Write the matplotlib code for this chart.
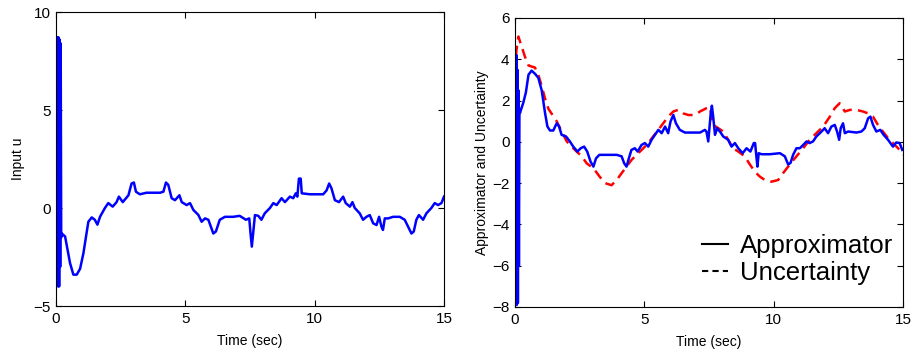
import matplotlib
matplotlib.use('Agg')
import matplotlib.pyplot as plt
from matplotlib.lines import Line2D

plt.rcParams['font.family'] = ['Liberation Sans', 'DejaVu Sans']

# Left panel: control input u(t)
t_u = [0.0, 0.02, 0.04, 0.06, 0.08, 0.10, 0.12, 0.14, 0.16, 0.18, 0.20,
       0.22, 0.35, 0.54, 0.67, 0.80, 0.93, 1.06, 1.16, 1.25, 1.38, 1.50, 1.60,
       1.70, 1.89, 2.02, 2.19, 2.34, 2.43, 2.58, 2.80, 2.92, 3.01, 3.09, 3.24,
       3.50, 4.02, 4.15, 4.25, 4.34, 4.47, 4.60, 4.77, 4.86, 5.05, 5.18, 5.31,
       5.50, 5.63, 5.76, 5.89, 6.08, 6.18, 6.33, 6.53, 6.85, 7.10, 7.34, 7.47,
       7.52, 7.57, 7.62, 7.69, 7.82, 7.94, 8.07, 8.27, 8.40, 8.53, 8.72, 8.85,
       9.04, 9.17, 9.27, 9.33, 9.39, 9.46, 9.50, 9.81, 10.33, 10.46, 10.56,
       10.65, 10.78, 10.94, 11.10, 11.20, 11.36, 11.46, 11.55, 11.74, 11.87,
       12.00, 12.13, 12.26, 12.39, 12.49, 12.58, 12.64, 12.71, 12.84, 13.03,
       13.29, 13.48, 13.61, 13.74, 13.83, 13.93, 14.03, 14.19, 14.32, 14.51,
       14.64, 14.77, 14.90, 15.0]
u = [3.7, 8.7, -2.0, 8.7, -4.0, 8.7, -4.0, 8.6, -3.0, 8.4, -1.5,
     -1.3, -1.45, -2.8, -3.4, -3.4, -3.1, -2.3, -1.45, -0.7, -0.48, -0.6, -0.85,
     -0.45, 0.0, 0.25, 0.07, 0.3, 0.58, 0.3, 0.65, 1.25, 1.3, 0.83, 0.7,
     0.78, 0.78, 0.83, 1.3, 1.18, 0.5, 0.4, 0.65, 0.3, 0.15, 0.25, -0.1,
     -0.35, -0.7, -0.53, -0.6, -1.3, -1.2, -0.6, -0.45, -0.45, -0.4, -0.6, -0.53,
     -1.3, -1.97, -1.3, -0.36, -0.4, -0.6, -0.27, 0.0, 0.25, 0.15, 0.5, 0.3,
     0.58, 0.5, 0.75, 0.58, 1.5, 1.5, 0.75, 0.7, 0.7, 0.9, 1.25,
     1.0, 0.4, 0.3, 0.58, 0.25, 0.07, 0.3, 0.0, -0.27, -0.6,
     -0.45, -0.36, -0.78, -0.87, -0.45, -0.95, -1.12, -0.53, -0.53, -0.45,
     -0.45, -0.6, -0.95, -1.3, -1.2, -0.6, -0.36, -0.6, -0.27, 0.0,
     0.25, 0.15, 0.25, 0.58]

# Right panel: approximator output
t_a = [0.0, 0.03, 0.05, 0.07, 0.09, 0.11, 0.13, 0.15, 0.17, 0.19,
       0.32, 0.42, 0.52, 0.64, 0.77, 0.90, 1.03, 1.16, 1.25, 1.35, 1.48, 1.61,
       1.70, 1.80, 1.97, 2.12, 2.25, 2.41, 2.54, 2.67, 2.79, 2.92, 3.03, 3.13,
       3.26, 3.54, 3.93, 4.12, 4.22, 4.31, 4.40, 4.50, 4.63, 4.74, 4.89, 5.02,
       5.15, 5.28, 5.41, 5.54, 5.67, 5.80, 5.92, 6.01, 6.12, 6.22, 6.37, 6.57,
       6.89, 7.15, 7.34, 7.40, 7.47, 7.56, 7.61, 7.66, 7.73, 7.82, 7.92, 8.05,
       8.24, 8.37, 8.50, 8.63, 8.80, 8.95, 9.10, 9.23, 9.28, 9.33, 9.37, 9.42,
       9.53, 9.85, 10.24, 10.43, 10.56, 10.65, 10.75, 10.88, 11.01, 11.14,
       11.27, 11.39, 11.52, 11.65, 11.85, 11.97, 12.10, 12.23, 12.36, 12.45,
       12.53, 12.59, 12.68, 12.75, 12.88, 13.20, 13.39, 13.52, 13.65, 13.74,
       13.84, 13.97, 14.12, 14.25, 14.42, 14.61, 14.74, 14.87, 14.97]
approx = [0.0, -1.9, 4.2, -7.9, 3.5, -7.8, 2.5, -6.0, 1.6, 1.4,
          1.9, 2.4, 3.25, 3.45, 3.3, 3.1, 2.5, 1.4, 0.75, 0.55, 0.55, 0.9,
          0.75, 0.34, 0.26, 0.02, -0.23, -0.47, -0.31, -0.23, -0.47, -0.96, -1.2, -0.8,
          -0.63, -0.63, -0.63, -0.7, -1.04, -1.2, -0.8, -0.39, -0.31, -0.47, -0.15, -0.06,
          -0.23, 0.1, 0.34, 0.58, 0.42, 0.74, 0.42, 0.98, 1.3, 0.9, 0.58, 0.45,
          0.45, 0.45, 0.58, 0.5, 0.02, 1.3, 1.75, 1.22, 0.34, 0.66, 0.5, 0.26,
          0.1, -0.23, -0.06, -0.31, -0.55, -0.31, -0.47, -0.06, -0.06, -0.7, -1.2, -0.55,
          -0.6, -0.6, -0.55, -0.7, -1.1, -1.02, -0.63, -0.31, -0.31, -0.15,
          0.02, -0.06, 0.02, 0.26, 0.5, 0.66, 0.42, 0.74, 0.82, 0.5,
          0.1, 0.66, 0.9, 0.42, 0.5, 0.45, 0.5, 0.66, 1.14, 1.22,
          0.82, 0.5, 0.58, 0.34, 0.1, -0.23, -0.03, -0.06, -0.39]

# Right panel: true uncertainty
t_d = [0.0, 0.05, 0.13, 0.26, 0.39, 0.52, 0.64, 0.77, 0.90, 1.03, 1.16, 1.29,
       1.45, 1.61, 1.74, 1.87, 2.00, 2.19, 2.38, 2.58, 2.77, 3.03, 3.28, 3.48,
       3.73, 3.93, 4.12, 4.31, 4.50, 4.70, 4.96, 5.15, 5.34, 5.54, 5.73, 5.92,
       6.12, 6.31, 6.50, 6.70, 6.95, 7.15, 7.40, 7.53, 7.66, 7.86, 8.05, 8.24,
       8.43, 8.63, 8.88, 9.08, 9.27, 9.46, 9.66, 9.91, 10.17, 10.36, 10.62,
       10.88, 11.14, 11.39, 11.65, 11.91, 12.17, 12.36, 12.55, 12.75, 12.95,
       13.20, 13.45, 13.65, 13.84, 14.03, 14.22, 14.42, 14.61, 14.81, 15.0]
uncert = [2.6, 4.4, 5.1, 4.6, 4.1, 3.7, 3.65, 3.6, 3.25, 2.7, 2.1, 1.6,
          1.3, 1.0, 0.66, 0.34, 0.02, -0.23, -0.47, -0.7, -1.04, -1.28, -1.7, -2.0,
          -2.1, -1.85, -1.52, -1.2, -0.88, -0.63, -0.31, -0.06, 0.26, 0.58, 0.9, 1.22,
          1.47, 1.55, 1.38, 1.3, 1.3, 1.47, 1.63, 1.68, 0.82, 0.66, 0.5, 0.1,
          -0.31, -0.47, -0.7, -1.1, -1.44, -1.68, -1.85, -1.93, -1.85, -1.52, -1.1,
          -0.7, -0.31, 0.1, 0.42, 0.74, 1.22, 1.63, 1.87, 1.47, 1.55,
          1.55, 1.47, 1.38, 1.22, 0.82, 0.5, 0.18, -0.06, -0.31, -0.63]

fig = plt.figure(figsize=(9.14, 3.5), dpi=100)
ax1 = fig.add_axes([0.0613, 0.1257, 0.4245, 0.84])
ax2 = fig.add_axes([0.5635, 0.1229, 0.4245, 0.8257])

ax1.plot(t_u, u, color='#0000ff', lw=1.8)
ax1.set_xlim(0, 15)
ax1.set_ylim(-5, 10)
ax1.set_xticks([0, 5, 10, 15])
ax1.set_yticks([-5, 0, 5, 10])
ax1.set_xlabel('Time (sec)', fontsize=10, labelpad=6)
ax1.set_ylabel('Input u', fontsize=10, labelpad=6)

ax2.plot(t_d, uncert, color='#ff0000', lw=1.8, dashes=(4, 2.5))
ax2.plot(t_a, approx, color='#0000ff', lw=1.8)
ax2.set_xlim(0, 15)
ax2.set_ylim(-8, 6)
ax2.set_xticks([0, 5, 10, 15])
ax2.set_yticks([-8, -6, -4, -2, 0, 2, 4, 6])
ax2.set_xlabel('Time (sec)', fontsize=10, labelpad=6)
ax2.set_ylabel('Approximator and Uncertainty', fontsize=10, labelpad=2)

handles = [Line2D([], [], color='black', lw=1.5),
           Line2D([], [], color='black', lw=1.5, dashes=(3, 2))]
ax2.legend(handles, ['Approximator', 'Uncertainty'], loc='lower right',
           bbox_to_anchor=(1.0, 0.04), frameon=False, fontsize=18.5,
           handlelength=1.0, handletextpad=0.45, labelspacing=0.12,
           borderaxespad=0)

for ax in (ax1, ax2):
    ax.tick_params(direction='in', top=True, right=True, length=4,
                   labelsize=11, pad=4)
    for s in ax.spines.values():
        s.set_linewidth(0.8)

fig.savefig('out.png', dpi=100)
